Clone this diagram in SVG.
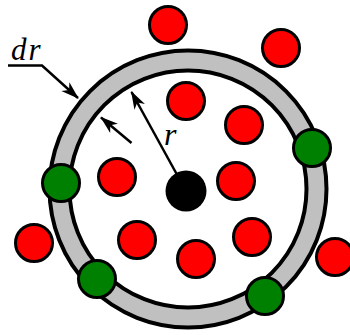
<svg xmlns="http://www.w3.org/2000/svg" width="350" height="335" viewBox="0 0 350 335">
<style>
.red{fill:#ff0000;stroke:#000;stroke-width:3}
.green{fill:#008000;stroke:#000;stroke-width:3}
.arr{fill:none;stroke:#000;stroke-width:2.5;marker-end:url(#ah)}
.lbl{font-family:"Liberation Serif","Times New Roman",serif;font-style:italic;fill:#000}
</style>
<defs>
<marker id="ah" markerUnits="userSpaceOnUse" markerWidth="24" markerHeight="16" viewBox="-20 -8 24 16" refX="0" refY="0" orient="auto" overflow="visible">
<path d="M1,0 L-17,-6 L-12,0 L-17,6 Z" fill="#000"/>
</marker>
</defs>
<g id="ring">
<circle cx="188" cy="189" r="128.5" fill="none" stroke="#000" stroke-width="24"/>
<circle cx="188" cy="189" r="128.5" fill="none" stroke="#c0c0c0" stroke-width="16"/>
</g>
<g id="connectors">
<polyline class="arr" points="8,65.5 42,65.5 78,98"/>
<line class="arr" x1="131.5" y1="143" x2="101" y2="117.5"/>
<line class="arr" x1="186" y1="191" x2="131.5" y2="92"/>
</g>
<g id="center"><circle cx="186" cy="191" r="20.5" fill="#000"/></g>
<g id="red1"><circle class="red" cx="168" cy="25" r="18.5"/></g>
<g id="red2"><circle class="red" cx="281" cy="48" r="18.5"/></g>
<g id="red3"><circle class="red" cx="186" cy="101" r="18.5"/></g>
<g id="red4"><circle class="red" cx="244" cy="125" r="18.5"/></g>
<g id="red5"><circle class="red" cx="117" cy="177" r="18.5"/></g>
<g id="red6"><circle class="red" cx="236" cy="181" r="18.5"/></g>
<g id="red7"><circle class="red" cx="137" cy="240" r="18.5"/></g>
<g id="red8"><circle class="red" cx="252" cy="237" r="18.5"/></g>
<g id="red9"><circle class="red" cx="196" cy="259" r="18.5"/></g>
<g id="red10"><circle class="red" cx="34" cy="243" r="18.5"/></g>
<g id="red11"><circle class="red" cx="335" cy="257" r="18.5"/></g>
<g id="green1"><circle class="green" cx="61" cy="183" r="18.5"/></g>
<g id="green2"><circle class="green" cx="97" cy="279" r="18.5"/></g>
<g id="green3"><circle class="green" cx="265" cy="296" r="18.5"/></g>
<g id="green4"><circle class="green" cx="312" cy="148" r="18.5"/></g>
<g id="labels">
<text class="lbl" x="11" y="60" font-size="31" letter-spacing="2">dr</text>
<text class="lbl" x="164" y="145" font-size="32">r</text>
</g>
</svg>
